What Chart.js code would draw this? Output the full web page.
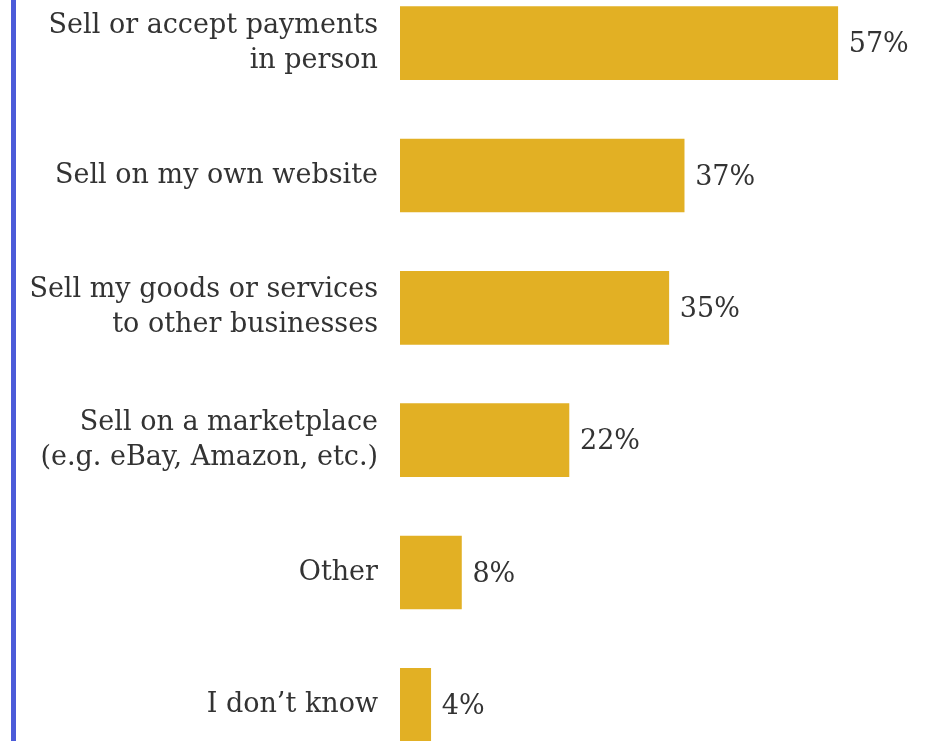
<!DOCTYPE html>
<html>
<head>
<meta charset="utf-8">
<script src="https://cdn.jsdelivr.net/npm/chart.js@4/dist/chart.umd.min.js"></script>
<style>
  html, body { margin: 0; padding: 0; background: #fff; overflow: hidden; }
  .wrap { position: relative; width: 933px; height: 741px; overflow: hidden; }
  .rule { position: absolute; left: 11px; top: 0; width: 5px; height: 741px; background: #4b5bd9; }
  #salesChart { position: absolute; left: 0; top: -23px; }
</style>
</head>
<body>
<div class="wrap">
  <div class="rule"></div>
  <canvas id="salesChart" width="933" height="794"></canvas>
</div>
<script>
// How people sell
const channels = [
  ["Sell or accept payments", "in person"],
  "Sell on my own website",
  ["Sell my goods or services", "to other businesses"],
  ["Sell on a marketplace", "(e.g. eBay, Amazon, etc.)"],
  "Other",
  "I don\u2019t know",
];
const shares = [57, 37, 35, 22, 8, 4];

const textFont = { family: "'DejaVu Serif', Georgia, serif", size: 27 };

// value labels at the end of each bar
const valueLabels = {
  id: "valueLabels",
  afterDatasetsDraw(chart) {
    const ctx = chart.ctx;
    const meta = chart.getDatasetMeta(0);
    ctx.save();
    ctx.font = textFont.size + "px " + textFont.family;
    ctx.fillStyle = "#333";
    ctx.textAlign = "left";
    ctx.textBaseline = "middle";
    meta.data.forEach((bar, i) => {
      ctx.fillText(shares[i] + "%", bar.x + 11, bar.y + 2);
    });
    ctx.restore();
  },
};

const chartCanvas = document.getElementById("salesChart").getContext("2d");

new Chart(chartCanvas, {
  type: "bar",
  data: {
    labels: channels,
    datasets: [
      {
        data: shares,
        backgroundColor: "#e2b024",
        barThickness: 73,
      },
    ],
  },
  options: {
    indexAxis: "y",
    responsive: false,
    animation: false,
    layout: { padding: 0 },
    plugins: {
      legend: { display: false },
      tooltip: { enabled: false },
    },
    scales: {
      x: {
        display: false,
        min: 0,
        max: 69.4,
      },
      y: {
        grid: { display: false, drawTicks: false },
        border: { display: false },
        ticks: {
          color: "#333",
          padding: 22,
          font: { ...textFont, lineHeight: 1.3 },
        },
        afterFit(scale) {
          // fixed label column, no extra room for the end labels
          scale.width = 400;
          scale.paddingTop = 0;
          scale.paddingBottom = 0;
        },
      },
    },
  },
  plugins: [valueLabels],
});
</script>
</body>
</html>
